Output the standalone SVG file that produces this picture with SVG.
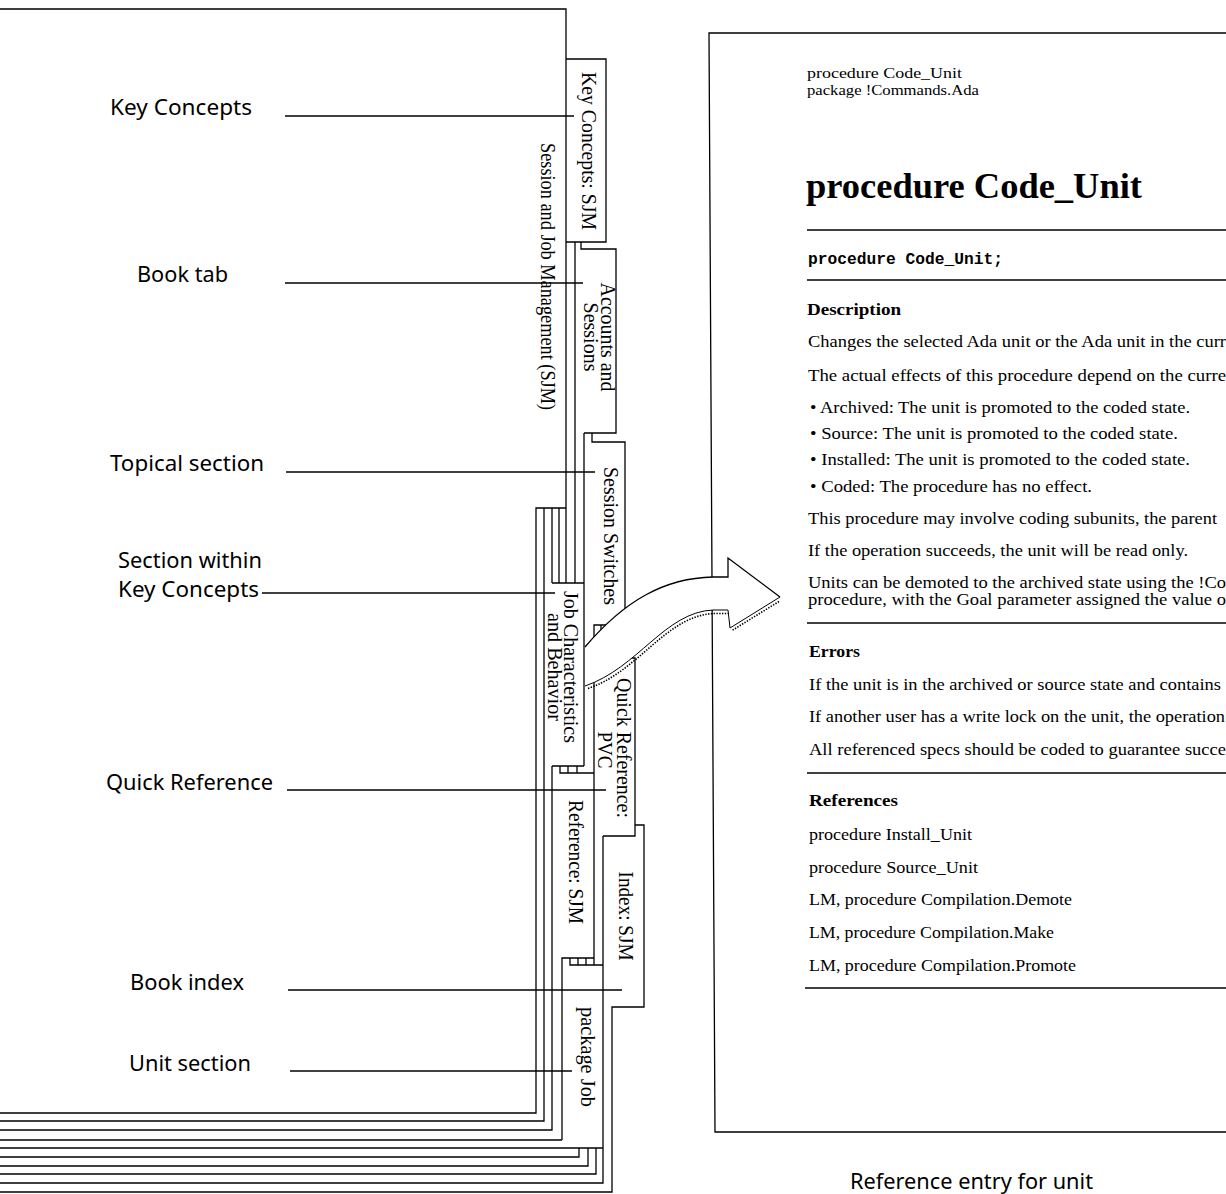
<svg xmlns="http://www.w3.org/2000/svg" width="1226" height="1194" viewBox="0 0 1226 1194">
<style>
.ln{fill:none;stroke:#000;stroke-width:1.3}
.rule{fill:none;stroke:#000;stroke-width:1.5}
.tab{font-family:"Liberation Serif",serif;font-size:22px;fill:#000}
.lbl{font-family:"Noto Sans","Open Sans",sans-serif;font-size:22px;fill:#000}
.pg{font-family:"Liberation Serif",serif;font-size:17px;fill:#000}
.hd{font-family:"Liberation Serif",serif;font-size:14.5px;fill:#000}
.pgb{font-family:"Liberation Serif",serif;font-size:17px;font-weight:bold;fill:#000}
.ttl{font-family:"Liberation Serif",serif;font-size:36px;font-weight:bold;fill:#000}
.mono{font-family:"Liberation Mono",monospace;font-size:16px;font-weight:bold;fill:#000}
.cap{font-family:"Noto Sans","Open Sans",sans-serif;font-size:22px;fill:#000}
</style>
<rect width="1226" height="1194" fill="#fff"/>

<!-- reference page -->
<g id="reference-page">
  <path class="ln" d="M1226,33 H709 L715,1132 H1226"/>
  <text class="hd" x="807" y="78" textLength="155" lengthAdjust="spacingAndGlyphs">procedure Code_Unit</text>
  <text class="hd" x="807" y="95" textLength="172" lengthAdjust="spacingAndGlyphs">package !Commands.Ada</text>
  <text class="ttl" x="806" y="198" textLength="336" lengthAdjust="spacingAndGlyphs">procedure Code_Unit</text>
  <line class="rule" x1="807" y1="230" x2="1226" y2="230"/>
  <text class="mono" x="808" y="264" textLength="195" lengthAdjust="spacingAndGlyphs">procedure Code_Unit;</text>
  <line class="rule" x1="807" y1="280" x2="1226" y2="280"/>
  <text class="pgb" x="807" y="315" textLength="94" lengthAdjust="spacingAndGlyphs">Description</text>
  <text class="pg" x="808" y="347" textLength="418" lengthAdjust="spacingAndGlyphs">Changes the selected Ada unit or the Ada unit in the curr</text>
  <text class="pg" x="808" y="381" textLength="418" lengthAdjust="spacingAndGlyphs">The actual effects of this procedure depend on the curre</text>
  <text class="pg" x="810" y="413" textLength="380" lengthAdjust="spacingAndGlyphs">• Archived: The unit is promoted to the coded state.</text>
  <text class="pg" x="810" y="439" textLength="368" lengthAdjust="spacingAndGlyphs">• Source: The unit is promoted to the coded state.</text>
  <text class="pg" x="810" y="465" textLength="380" lengthAdjust="spacingAndGlyphs">• Installed: The unit is promoted to the coded state.</text>
  <text class="pg" x="810" y="492" textLength="282" lengthAdjust="spacingAndGlyphs">• Coded: The procedure has no effect.</text>
  <text class="pg" x="808" y="524" textLength="409" lengthAdjust="spacingAndGlyphs">This procedure may involve coding subunits, the parent</text>
  <text class="pg" x="808" y="556" textLength="380" lengthAdjust="spacingAndGlyphs">If the operation succeeds, the unit will be read only.</text>
  <text class="pg" x="808" y="588" textLength="418" lengthAdjust="spacingAndGlyphs">Units can be demoted to the archived state using the !Co</text>
  <text class="pg" x="808" y="605" textLength="418" lengthAdjust="spacingAndGlyphs">procedure, with the Goal parameter assigned the value o</text>
  <line class="rule" x1="807" y1="623" x2="1226" y2="623"/>
  <text class="pgb" x="809" y="657" textLength="51" lengthAdjust="spacingAndGlyphs">Errors</text>
  <text class="pg" x="809" y="690" textLength="412" lengthAdjust="spacingAndGlyphs">If the unit is in the archived or source state and contains</text>
  <text class="pg" x="809" y="722" textLength="416" lengthAdjust="spacingAndGlyphs">If another user has a write lock on the unit, the operation</text>
  <text class="pg" x="809" y="755" textLength="417" lengthAdjust="spacingAndGlyphs">All referenced specs should be coded to guarantee succe</text>
  <line class="rule" x1="807" y1="773" x2="1226" y2="773"/>
  <text class="pgb" x="809" y="806" textLength="89" lengthAdjust="spacingAndGlyphs">References</text>
  <text class="pg" x="809" y="840" textLength="163" lengthAdjust="spacingAndGlyphs">procedure Install_Unit</text>
  <text class="pg" x="809" y="873" textLength="169" lengthAdjust="spacingAndGlyphs">procedure Source_Unit</text>
  <text class="pg" x="809" y="905" textLength="263" lengthAdjust="spacingAndGlyphs">LM, procedure Compilation.Demote</text>
  <text class="pg" x="809" y="938" textLength="245" lengthAdjust="spacingAndGlyphs">LM, procedure Compilation.Make</text>
  <text class="pg" x="809" y="971" textLength="267" lengthAdjust="spacingAndGlyphs">LM, procedure Compilation.Promote</text>
  <line class="rule" x1="805" y1="988" x2="1226" y2="988"/>
</g>
<g id="caption">
  <text class="cap" x="850" y="1189" textLength="243" lengthAdjust="spacingAndGlyphs">Reference entry for unit</text>
</g>

<!-- book stack -->
<g id="book-stack">
  <path class="ln" d="M0,9 H566 V583"/>
  <path class="ln" d="M566,508 H536 V1113 H0"/>
  <path class="ln" d="M544,508 V1121 H0"/>
  <path class="ln" d="M552,508 V583 M552,766 V1130 H0"/>
  <path class="ln" d="M559,508 V583"/>
  <path class="ln" d="M575,242 V583"/>
  <path class="ln" d="M584,433 V766"/>
  <path class="ln" d="M562,1140 V958 H594"/>
  <path class="ln" d="M0,1140 H562"/>
  <path class="ln" d="M0,1148 H603"/>
  <path class="ln" d="M579,1148 V1157 H0"/>
  <path class="ln" d="M588,1148 V1166 H0"/>
  <path class="ln" d="M596,1148 V1174 H0"/>
  <path class="ln" d="M603,836 V1183 H0"/>
  <path class="ln" d="M635,825 H644 V1007 H612 V1192 H0"/>
</g>

<g id="tab-spine">
  <text class="tab" font-size="21" transform="translate(541,276.5) rotate(90)" text-anchor="middle" textLength="267" lengthAdjust="spacingAndGlyphs">Session and Job Management (SJM)</text>
</g>
<g id="tab-key-concepts">
  <path class="ln" d="M566,59 H606 V242 H566"/>
  <text class="tab" transform="translate(582,151) rotate(90)" text-anchor="middle" textLength="158" lengthAdjust="spacingAndGlyphs">Key Concepts: SJM</text>
</g>
<g id="tab-accounts">
  <path class="ln" d="M581,242 V249 H616 V433 H584"/>
  <text class="tab" font-size="20" transform="translate(601,337) rotate(90)" text-anchor="middle" textLength="109" lengthAdjust="spacingAndGlyphs">Accounts and</text>
  <text class="tab" font-size="20" transform="translate(584,337) rotate(90)" text-anchor="middle" textLength="69" lengthAdjust="spacingAndGlyphs">Sessions</text>
</g>
<g id="tab-session-switches">
  <path class="ln" d="M592,433 V442 H625 V650"/>
  <path class="ln" d="M594,965 V625 H625 M601,625 V640"/>
  <text class="tab" transform="translate(604,536) rotate(90)" text-anchor="middle" textLength="138" lengthAdjust="spacingAndGlyphs">Session Switches</text>
</g>
<g id="tab-job-characteristics">
  <path class="ln" d="M552,583 H584 M552,766 H584 M560,766 V773 H594 M568,766 V773 M577,766 V773"/>
  <text class="tab" font-size="19" transform="translate(564,667) rotate(90)" text-anchor="middle" textLength="152" lengthAdjust="spacingAndGlyphs">Job Characteristics</text>
  <text class="tab" font-size="19" transform="translate(548,667) rotate(90)" text-anchor="middle" textLength="108" lengthAdjust="spacingAndGlyphs">and Behavior</text>
</g>
<g id="tab-quick-reference">
  <path class="ln" d="M600,658 H635 V836 H603"/>
  <text class="tab" font-size="21" transform="translate(617,748) rotate(90)" text-anchor="middle" textLength="140" lengthAdjust="spacingAndGlyphs">Quick Reference:</text>
  <text class="tab" font-size="20" transform="translate(598,750) rotate(90)" text-anchor="middle" textLength="37" lengthAdjust="spacingAndGlyphs">PVC</text>
</g>
<g id="tab-reference">
  <text class="tab" transform="translate(569,862) rotate(90)" text-anchor="middle" textLength="124" lengthAdjust="spacingAndGlyphs">Reference: SJM</text>
</g>
<g id="tab-index">
  <text class="tab" transform="translate(619,916) rotate(90)" text-anchor="middle" textLength="89" lengthAdjust="spacingAndGlyphs">Index: SJM</text>
</g>
<g id="tab-package-job">
  <path class="ln" d="M570,958 V965 H603 M578,958 V965 M586,958 V965"/>
  <text class="tab" transform="translate(581,1057) rotate(90)" text-anchor="middle" textLength="100" lengthAdjust="spacingAndGlyphs">package Job</text>
</g>

<!-- arrow -->
<g id="arrow">
  <path d="M585,647 C625,600 665,578 713,577 H728 V558 L780,597 L730,628 L728,610 H713 C665,612 638,668 585,686 Z" fill="#fff" stroke="none"/>
  <path class="ln" d="M585,647 C625,600 665,578 713,577 H728 V558 L780,597"/>
  <path fill="none" stroke="#000" stroke-width="1" d="M780,597 L730,628 L728,610 H713 C665,612 638,668 585,686"/>
  <path fill="none" stroke="#000" stroke-width="1.6" stroke-dasharray="1.4 1.4" transform="translate(1,2.5)" d="M778,599 L731,628 M728,611 H713 C665,613 638,669 587,686"/>
</g>

<!-- labels -->
<g id="label-key-concepts"><text class="lbl" x="110" y="115" textLength="142" lengthAdjust="spacingAndGlyphs">Key Concepts</text></g>
<g id="label-book-tab"><text class="lbl" x="137" y="282" textLength="91" lengthAdjust="spacingAndGlyphs">Book tab</text></g>
<g id="label-topical-section"><text class="lbl" x="110" y="471" textLength="154" lengthAdjust="spacingAndGlyphs">Topical section</text></g>
<g id="label-section-within">
  <text class="lbl" x="118" y="568" textLength="144" lengthAdjust="spacingAndGlyphs">Section within</text>
  <text class="lbl" x="118" y="597" textLength="141" lengthAdjust="spacingAndGlyphs">Key Concepts</text>
</g>
<g id="label-quick-reference"><text class="lbl" x="106" y="790" textLength="167" lengthAdjust="spacingAndGlyphs">Quick Reference</text></g>
<g id="label-book-index"><text class="lbl" x="130" y="990" textLength="114" lengthAdjust="spacingAndGlyphs">Book index</text></g>
<g id="label-unit-section"><text class="lbl" x="129" y="1071" textLength="122" lengthAdjust="spacingAndGlyphs">Unit section</text></g>

<!-- connectors -->
<g id="connectors" class="ln">
  <line x1="285" y1="116" x2="574" y2="116"/>
  <line x1="285" y1="283" x2="583" y2="283"/>
  <line x1="286" y1="472" x2="595" y2="472"/>
  <line x1="262" y1="593" x2="555" y2="593"/>
  <line x1="287" y1="790" x2="606" y2="790"/>
  <line x1="288" y1="990" x2="622" y2="990"/>
  <line x1="290" y1="1071" x2="572" y2="1071"/>
</g>
</svg>
